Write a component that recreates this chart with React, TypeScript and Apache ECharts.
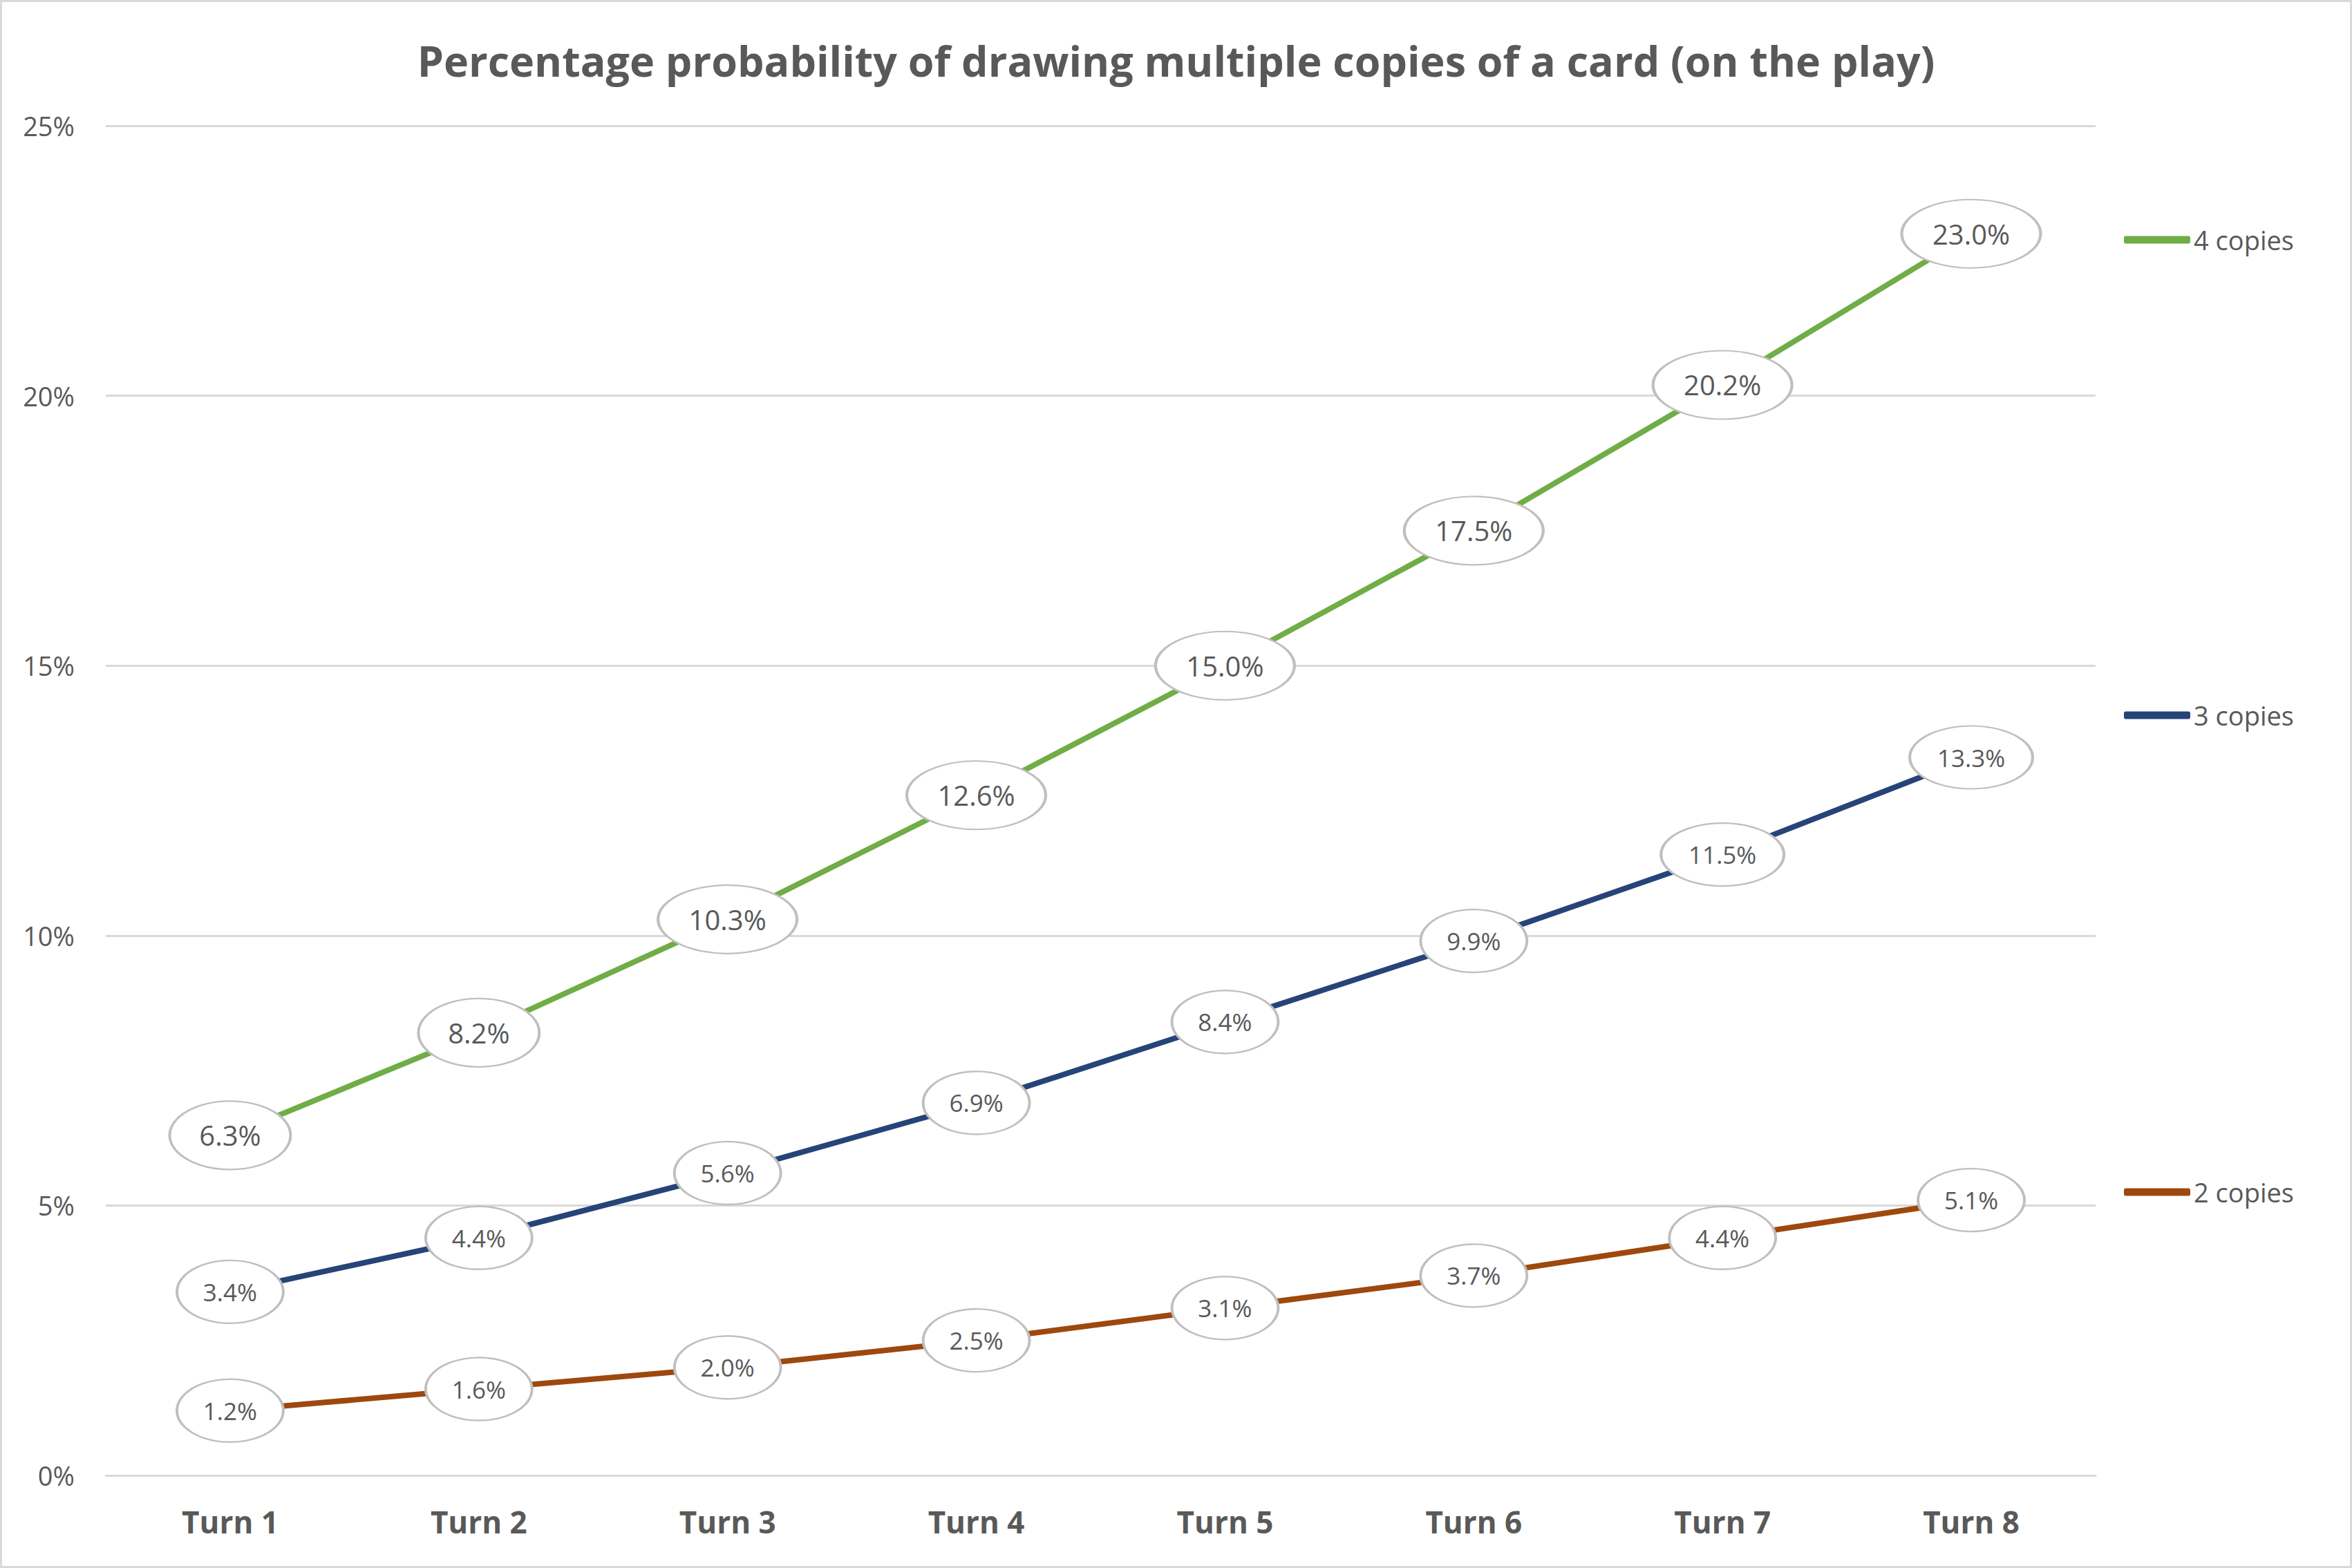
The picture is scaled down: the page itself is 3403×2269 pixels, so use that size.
import React, { useEffect, useRef } from "react";
import * as echarts from "echarts";

const categories = ["Turn 1", "Turn 2", "Turn 3", "Turn 4", "Turn 5", "Turn 6", "Turn 7", "Turn 8"];
const copies4 = [6.3, 8.2, 10.3, 12.6, 15.0, 17.5, 20.2, 23.0];
const copies3 = [3.4, 4.4, 5.6, 6.9, 8.4, 9.9, 11.5, 13.3];
const copies2 = [1.2, 1.6, 2.0, 2.5, 3.1, 3.7, 4.4, 5.1];
const yTicks = [0, 5, 10, 15, 20, 25];
const seriesNames = ["4 copies", "3 copies", "2 copies"];
const seriesColors = ["#70AD47", "#264478", "#9E480E"];

const FONT = "'Open Sans', 'Noto Sans', sans-serif";
const GREY = "#595959";

export default function App() {
  const ref = useRef<HTMLDivElement>(null);
  useEffect(() => {
    if (!ref.current) return;
    const chart = echarts.init(ref.current, null, { renderer: "svg" });
    const fmt = (v: number) => v.toFixed(1) + "%";
    const ellipse = (big: boolean) => (val: any) => {
      const s = fmt(Array.isArray(val) ? val[1] : val);
      const extra = s.length - 4;
      return big ? [175 + extra * 26, 99] : [154 + extra * 24, 91];
    };
    const datasets = [copies4, copies3, copies2];
    const lineSeries = datasets.map((d, i) => ({
      name: seriesNames[i],
      type: "line",
      data: d,
      symbol: "none",
      color: seriesColors[i],
      lineStyle: { width: 8, color: seriesColors[i], cap: "round" },
      z: 2,
    }));
    const labelSeries = datasets.map((d, i) => ({
      name: seriesNames[i] + " labels",
      type: "scatter",
      data: d,
      symbol: "circle",
      symbolSize: ellipse(i === 0),
      itemStyle: { color: "#ffffff", borderColor: "#bfbfbf", borderWidth: 3, opacity: 1 },
      label: {
        show: true,
        position: "inside",
        formatter: (p: any) => fmt(p.value),
        color: GREY,
        fontFamily: FONT,
        fontSize: i === 0 ? 40 : 35,
      },
      emphasis: { disabled: true },
      z: 3,
    }));
    const legendTops = [347, 1035, 1725];
    chart.setOption({
      animation: false,
      backgroundColor: "#ffffff",
      title: {
        text: "Percentage probability of drawing multiple copies of a card (on the play)",
        left: "center",
        top: 50,
        padding: 0,
        textStyle: { fontFamily: FONT, fontSize: 61, fontWeight: "bold", color: GREY, lineHeight: 74 },
      },
      legend: seriesNames.map((n, i) => ({
        data: [n],
        orient: "vertical",
        left: 3073,
        top: legendTops[i] - 23,
        padding: 0,
        icon: "roundRect",
        itemWidth: 96,
        itemHeight: 11,
        textStyle: { fontFamily: FONT, fontSize: 38, color: GREY, lineHeight: 46 },
        selectedMode: false,
      })),
      grid: { left: 153, right: 371, top: 182, bottom: 134, containLabel: false },
      xAxis: {
        type: "category",
        data: categories,
        boundaryGap: true,
        axisLine: { show: true, lineStyle: { color: "#d9d9d9", width: 3 } },
        axisTick: { show: false },
        axisLabel: {
          color: GREY,
          fontFamily: FONT,
          fontSize: 44,
          fontWeight: "bold",
          lineHeight: 54,
          margin: 40,
        },
      },
      yAxis: {
        type: "value",
        min: yTicks[0],
        max: yTicks[yTicks.length - 1],
        interval: 5,
        axisLine: { show: false },
        axisTick: { show: false },
        splitLine: { lineStyle: { color: "#d9d9d9", width: 3 } },
        axisLabel: {
          formatter: "{value}%",
          color: GREY,
          fontFamily: FONT,
          fontSize: 38,
          margin: 45,
        },
      },
      graphic: [
        {
          type: "rect",
          silent: true,
          shape: { x: 1.5, y: 1.5, width: 3400, height: 2266 },
          style: { fill: "none", stroke: "#d9d9d9", lineWidth: 3 },
        },
      ],
      series: [...lineSeries, ...labelSeries],
    });
    return () => chart.dispose();
  }, []);
  return (
    <div
      ref={ref}
      style={{ position: "absolute", left: 0, top: 0, width: 3403, height: 2269 }}
    />
  );
}
